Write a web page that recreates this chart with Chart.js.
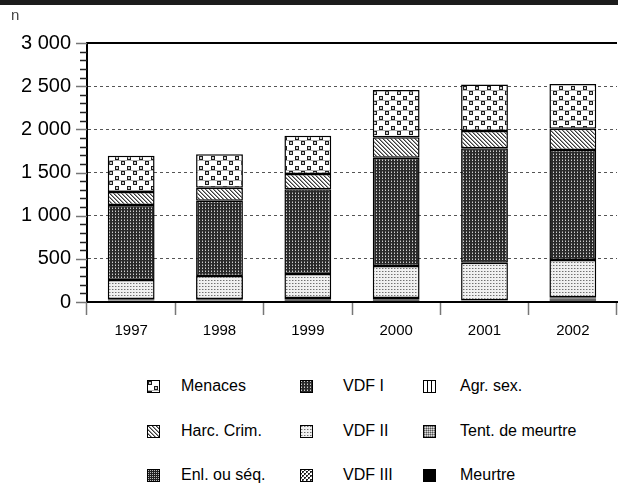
<!DOCTYPE html>
<html>
<head>
<meta charset="utf-8">
<script src="https://cdn.jsdelivr.net/npm/chart.js@4.4.1/dist/chart.umd.min.js"></script>
<style>
  body { margin: 0; background: #fff; font-family: "Liberation Sans", Arial, sans-serif; }
  #wrap { position: relative; width: 618px; height: 485px; overflow: hidden; }
  #band { position: absolute; left: 0; top: 0; width: 618px; height: 5px; background: #1c1c1c; }
  #unit { position: absolute; left: 11px; top: 6px; font-size: 15px; color: #444; }
  #box { position: absolute; left: 0; top: 0; width: 618px; height: 342px; }
  .leg { position: absolute; font-size: 16px; color: #000; white-space: nowrap; }
  .sw { position: absolute; }
</style>
</head>
<body>
<div id="wrap">
  <div id="box"><canvas id="mycanvas"></canvas></div>
  <div id="band"></div>
  <div id="unit">n</div>
</div>
<script>
// data
var years = ['1997', '1998', '1999', '2000', '2001', '2002'];
var meurtre = [10, 10, 10, 10, 5, 10];
var tentMeurtre = [5, 5, 10, 10, 5, 10];
var agrSex = [5, 5, 5, 5, 3, 5];
var enlSeq = [5, 5, 10, 10, 3, 15];
var vdf3 = [10, 10, 10, 10, 4, 15];
var vdf2 = [220, 266, 279, 372, 435, 432];
var vdf1 = [869, 873, 982, 1255, 1326, 1274];
var harc = [151, 150, 177, 236, 200, 245];
var menaces = [420, 387, 444, 548, 537, 518];
var yTicks = [0, 500, 1000, 1500, 2000, 2500, 3000];

// pattern tiles
function tile(w, h, draw) {
  var c = document.createElement('canvas');
  c.width = w; c.height = h;
  var g = c.getContext('2d');
  draw(g, w, h);
  return c;
}
function ring(g, x, y) {
  g.fillStyle = '#1e1e1e'; g.fillRect(x, y, 4, 4);
  g.fillStyle = '#cfcfcf'; g.fillRect(x + 1, y + 1, 2, 2);
}
var tiles = {
  menaces: tile(12, 10, function (g) {
    g.fillStyle = '#fff'; g.fillRect(0, 0, 12, 10);
    ring(g, 1, 1); ring(g, 7, 6);
    g.fillStyle = '#b0b0b0';
    g.fillRect(0, 0, 12, 1);
  }),
  harc: tile(4, 4, function (g) {
    g.fillStyle = '#fff'; g.fillRect(0, 0, 4, 4);
    g.fillStyle = '#3a3a3a';
    for (var i = 0; i < 4; i++) g.fillRect(i, i, 1, 1);
    g.fillStyle = '#999';
    for (var j = 0; j < 4; j++) g.fillRect((j + 1) % 4, j, 1, 1);
  }),
  vdf1: tile(3, 3, function (g) {
    g.fillStyle = '#2a2a2a'; g.fillRect(0, 0, 3, 3);
    g.fillStyle = '#cfcfcf'; g.fillRect(1, 1, 1, 1);
    g.fillStyle = '#777'; g.fillRect(1, 0, 1, 1);
  }),
  vdf2: tile(3, 3, function (g) {
    g.fillStyle = '#f0f0f0'; g.fillRect(0, 0, 3, 3);
    g.fillStyle = '#707070'; g.fillRect(1, 1, 1, 1);
    g.fillStyle = '#b5b5b5'; g.fillRect(2, 1, 1, 1);
  }),
  vdf3: tile(4, 4, function (g) {
    g.fillStyle = '#fff'; g.fillRect(0, 0, 4, 4);
    g.fillStyle = '#222';
    g.fillRect(0, 0, 2, 2); g.fillRect(2, 2, 2, 2);
    g.fillStyle = '#888'; g.fillRect(1, 1, 1, 1); g.fillRect(3, 3, 1, 1);
  }),
  enl: tile(2, 2, function (g) {
    g.fillStyle = '#222'; g.fillRect(0, 0, 2, 2);
    g.fillStyle = '#bbb'; g.fillRect(1, 1, 1, 1);
  }),
  agr: tile(4, 2, function (g) {
    g.fillStyle = '#fff'; g.fillRect(0, 0, 4, 2);
    g.fillStyle = '#000'; g.fillRect(0, 0, 1, 2);
  }),
  tent: tile(2, 2, function (g) {
    g.fillStyle = '#999'; g.fillRect(0, 0, 2, 2);
    g.fillStyle = '#ddd'; g.fillRect(0, 0, 1, 1);
    g.fillStyle = '#555'; g.fillRect(1, 1, 1, 1);
  }),
  meurtre: tile(1, 1, function (g) {
    g.fillStyle = '#000'; g.fillRect(0, 0, 1, 1);
  })
};

var ctx = document.getElementById('mycanvas').getContext('2d');
function pat(name) { return ctx.createPattern(tiles[name], 'repeat'); }

function ds(label, data, name) {
  return {
    label: label,
    data: data,
    backgroundColor: pat(name),
    borderColor: '#000',
    borderWidth: 1.5,
    borderSkipped: false
  };
}

var chartdata = {
  labels: years,
  datasets: [
    ds('Meurtre', meurtre, 'meurtre'),
    ds('Tent. de meurtre', tentMeurtre, 'tent'),
    ds('Agr. sex.', agrSex, 'agr'),
    ds('Enl. ou séq.', enlSeq, 'enl'),
    ds('VDF III', vdf3, 'vdf3'),
    ds('VDF II', vdf2, 'vdf2'),
    ds('VDF I', vdf1, 'vdf1'),
    ds('Harc. Crim.', harc, 'harc'),
    ds('Menaces', menaces, 'menaces')
  ]
};

function fmt(v) {
  return String(v).replace(/\B(?=(\d{3})+(?!\d))/g, ' ');
}

// small tick marks every 100 on the left axis, placed by the y scale
var minorTicks = {
  id: 'minorTicks',
  afterDraw: function (chart) {
    var y = chart.scales.y;
    var c = chart.ctx;
    var x0 = chart.chartArea.left;
    c.save();
    for (var v = y.min; v <= y.max; v += 100) {
      var py = Math.round(y.getPixelForValue(v)) + 0.5;
      var major = yTicks.indexOf(v) >= 0;
      c.strokeStyle = major ? '#777' : '#222';
      c.lineWidth = 1.5;
      c.beginPath();
      c.moveTo(x0 - (major ? 11 : 7), py);
      c.lineTo(x0, py);
      c.stroke();
    }
    c.restore();
  }
};

Chart.defaults.font.family = '"Liberation Sans", Arial, sans-serif';
Chart.defaults.color = '#000';

var barGraph = new Chart(ctx, {
  type: 'bar',
  data: chartdata,
  plugins: [minorTicks],
  options: {
    responsive: true,
    maintainAspectRatio: false,
    animation: false,
    layout: { padding: { top: 43, right: 1, left: 0, bottom: 0 } },
    datasets: { bar: { categoryPercentage: 1, barPercentage: 0.53 } },
    plugins: { legend: { display: false }, tooltip: { enabled: false } },
    scales: {
      x: {
        stacked: true,
        grid: {
          offset: true,
          drawOnChartArea: false,
          tickLength: 13,
          tickColor: '#777',
          tickWidth: 1.5
        },
        border: { color: '#000', width: 2 },
        ticks: { font: { size: 15 }, padding: 7 },
        afterFit: function (s) { s.height = 40; }
      },
      y: {
        stacked: true,
        min: 0,
        max: 3000,
        afterBuildTicks: function (s) {
          s.ticks = yTicks.map(function (v) { return { value: v }; });
        },
        grid: {
          color: function (c) {
            var v = c.tick ? c.tick.value : -1;
            if (v === 3000) return '#000';
            if (v === 0) return 'rgba(0,0,0,0)';
            return '#555';
          },
          lineWidth: function (c) {
            return c.tick && c.tick.value === 3000 ? 2 : 1;
          },
          drawTicks: true,
          tickColor: 'rgba(0,0,0,0)',
          tickLength: 8
        },
        border: {
          color: '#000',
          width: 2,
          dash: function (c) {
            return c.tick && c.tick.value === 3000 ? [] : [3, 3];
          }
        },
        ticks: {
          autoSkip: false,
          padding: 8,
          font: { size: 20 },
          callback: function (v) { return fmt(v); }
        },
        afterFit: function (s) { s.width = 87; }
      }
    }
  }
});

// legend, laid out in three columns like the original
var legendRows = [
  [['Menaces', 'menaces'], ['VDF I', 'vdf1'], ['Agr. sex.', 'agr']],
  [['Harc. Crim.', 'harc'], ['VDF II', 'vdf2'], ['Tent. de meurtre', 'tent']],
  [['Enl. ou séq.', 'enl'], ['VDF III', 'vdf3'], ['Meurtre', 'meurtre']]
];
var swX = [147, 300, 423];
var txX = [181, 343, 460];
var rowY = [387, 432, 476];
var wrap = document.getElementById('wrap');
legendRows.forEach(function (row, r) {
  row.forEach(function (item, c) {
    var sw = document.createElement('canvas');
    sw.width = 13; sw.height = 13;
    sw.className = 'sw';
    sw.style.left = swX[c] + 'px';
    sw.style.top = (rowY[r] - 7) + 'px';
    var g = sw.getContext('2d');
    g.fillStyle = g.createPattern(tiles[item[1]], 'repeat');
    g.fillRect(0, 0, 13, 13);
    g.strokeStyle = '#000';
    g.lineWidth = 1;
    g.strokeRect(0.5, 0.5, 12, 12);
    wrap.appendChild(sw);
    var t = document.createElement('div');
    t.className = 'leg';
    t.textContent = item[0];
    t.style.left = txX[c] + 'px';
    t.style.top = (rowY[r] - 10) + 'px';
    wrap.appendChild(t);
  });
});
</script>
</body>
</html>
